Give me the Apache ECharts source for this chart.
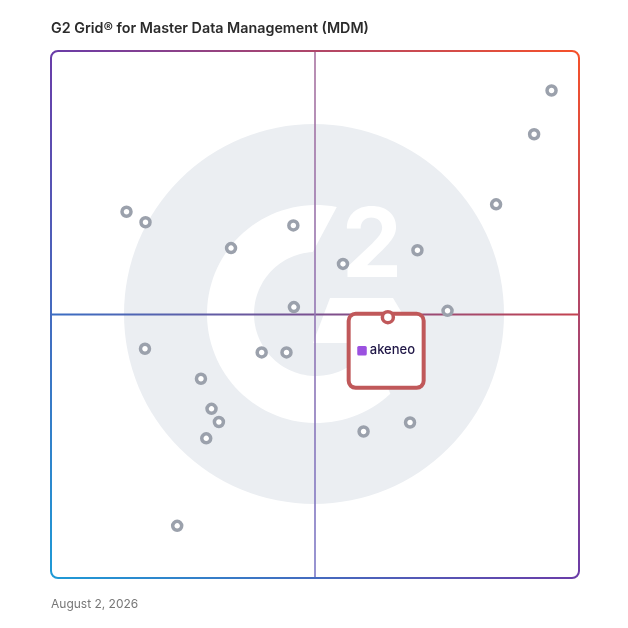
<!DOCTYPE html>
<html>
<head>
<meta charset="utf-8">
<script src="https://cdn.jsdelivr.net/npm/echarts@6/dist/echarts.min.js"></script>
<style>
html,body{margin:0;padding:0;background:#fff;}
#c{width:628px;height:628px;}
</style>
</head>
<body>
<div id="c"></div>
<script>
// ---- data (0-100 scale: x = Market Presence, y = Satisfaction) ----
var vendorX = [94.8, 91.5, 84.3, 14.3, 17.9, 45.9, 34.1, 69.4, 55.3, 46.0, 75.1, 17.8, 39.9, 44.6, 28.4, 30.4, 31.8, 29.4, 59.2, 68.0, 23.9];
var vendorY = [92.5, 84.2, 70.9, 69.5, 67.5, 66.9, 62.6, 62.2, 59.6, 51.4, 50.7, 43.5, 42.8, 42.8, 37.8, 32.1, 29.6, 26.5, 27.8, 29.5, 9.9];
var featuredName = 'akeneo';
var featuredX = [63.8];
var featuredY = [49.5];
var titleText = 'G2 Grid\u00ae for Master Data Management (MDM)';
var dateText = 'August 2, 2026';
var axisMin = 0, axisMax = 100, axisMid = 50;

var vendorData = vendorX.map(function (x, i) { return [x, vendorY[i]]; });
var featuredData = featuredX.map(function (x, i) { return [x, featuredY[i]]; });

var chart = echarts.init(document.getElementById('c'), null, {renderer: 'canvas'});
var FONT = 'Inter, "Noto Sans", sans-serif';
var RED = '#c0585a';

chart.setOption({
  animation: false,
  title: [{
    text: titleText, left: 51, top: 22, padding: 0,
    textStyle: {fontSize: 14.3, fontWeight: 600, color: '#2b2b2b', fontFamily: FONT}
  }, {
    text: dateText, left: 51, top: 598, padding: 0,
    textStyle: {fontSize: 12, fontWeight: 400, color: '#777', fontFamily: FONT}
  }],
  grid: {left: 51, top: 51, right: 49, bottom: 50},
  xAxis: {type: 'value', min: axisMin, max: axisMax, show: false},
  yAxis: {type: 'value', min: axisMin, max: axisMax, show: false},
  series: [{
    type: 'scatter', z: 3,
    data: vendorData,
    symbol: 'circle', symbolSize: 9,
    itemStyle: {color: '#fff', borderColor: '#9ba1ac', borderWidth: 3.5, opacity: 1}
  }, {
    type: 'scatter', z: 4,
    data: featuredData,
    symbol: 'circle', symbolSize: 1,
    itemStyle: {color: 'rgba(255,255,255,0)', opacity: 1},
    label: {
      show: true, position: 'inside', offset: [-1.7, 33.7],
      formatter: '{i|}{t|' + featuredName + '}',
      backgroundColor: '#fff', borderColor: RED, borderWidth: 4, borderRadius: 5,
      width: 71, lineHeight: 70, padding: 0, align: 'center', verticalAlign: 'middle',
      rich: {
        i: {backgroundColor: '#9b51e0', width: 9.5, height: 9.5, borderRadius: 1.5, align: 'center'},
        t: {fontSize: 13, color: '#1f1646', fontFamily: FONT, fontWeight: 500, padding: [0, 0, 1, 3], align: 'center'}
      }
    }
  }, {
    type: 'scatter', z: 5,
    data: featuredData,
    symbol: 'circle', symbolSize: 11,
    itemStyle: {color: '#fff', borderColor: RED, borderWidth: 3.5, opacity: 1}
  }]
});

// decorative background derived from axis positions
var p0 = chart.convertToPixel({gridIndex: 0}, [axisMin, axisMin]);
var p1 = chart.convertToPixel({gridIndex: 0}, [axisMax, axisMax]);
var pm = chart.convertToPixel({gridIndex: 0}, [axisMid, axisMid]);
var L = p0[0], B = p0[1], R = p1[0], T = p1[1], cx = pm[0], cy = pm[1];

function ringPoints(ox, oy, r0, r1, aOut0, aOut1, aIn0, aIn1) {
  var pts = [], n = 80, i, a;
  for (i = 0; i <= n; i++) {
    a = (aOut0 + (aOut1 - aOut0) * i / n) * Math.PI / 180;
    pts.push([ox + r1 * Math.cos(a), oy - r1 * Math.sin(a)]);
  }
  for (i = n; i >= 0; i--) {
    a = (aIn0 + (aIn1 - aIn0) * i / n) * Math.PI / 180;
    pts.push([ox + r0 * Math.cos(a), oy - r0 * Math.sin(a)]);
  }
  return pts;
}

chart.setOption({
  graphic: [
    {type: 'circle', z: 0, silent: true, shape: {cx: cx - 1, cy: cy - 0.5, r: 190}, style: {fill: '#ebeef2'}},
    {type: 'polygon', z: 0.5, silent: true, shape: {points: ringPoints(cx + 1, cy - 0.5, 62, 109, 79, 313, 93, 330)}, style: {fill: '#fff'}},
    {type: 'polygon', z: 0.5, silent: true, shape: {points: [[cx + 15, cy - 16.5], [cx + 78, cy - 16.5], [cx + 105, cy + 28.5], [cx - 2, cy + 28.5]]}, style: {fill: '#fff'}},
    {type: 'text', z: 0.6, silent: true, x: cx + 57, y: cy - 66, style: {text: '2', fill: '#fff', font: 'bold 96px ' + FONT, align: 'center', verticalAlign: 'middle'}},
    {type: 'line', z: 1, silent: true, shape: {x1: L, y1: cy, x2: R, y2: cy},
      style: {lineWidth: 2, stroke: {type: 'linear', x: L, y: 0, x2: R, y2: 0, global: true,
        colorStops: [{offset: 0, color: '#3a6ec4'}, {offset: 0.5, color: '#7a5090'}, {offset: 1, color: '#c4424f'}]}}},
    {type: 'line', z: 1, silent: true, shape: {x1: cx, y1: T, x2: cx, y2: B},
      style: {lineWidth: 1.6, stroke: {type: 'linear', x: 0, y: T, x2: 0, y2: B, global: true,
        colorStops: [{offset: 0, color: '#a8729f'}, {offset: 1, color: '#7c78c6'}]}}},
    {type: 'rect', z: 1.2, silent: true, shape: {x: L, y: T, width: R - L, height: B - T, r: 7},
      style: {fill: 'none', lineWidth: 2, stroke: {type: 'linear', x: L, y: B, x2: R, y2: T, global: true,
        colorStops: [{offset: 0, color: '#1e9ad6'}, {offset: 0.5, color: '#6a3ca8'}, {offset: 1, color: '#f6512a'}]}}}
  ]
});
</script>
</body>
</html>
